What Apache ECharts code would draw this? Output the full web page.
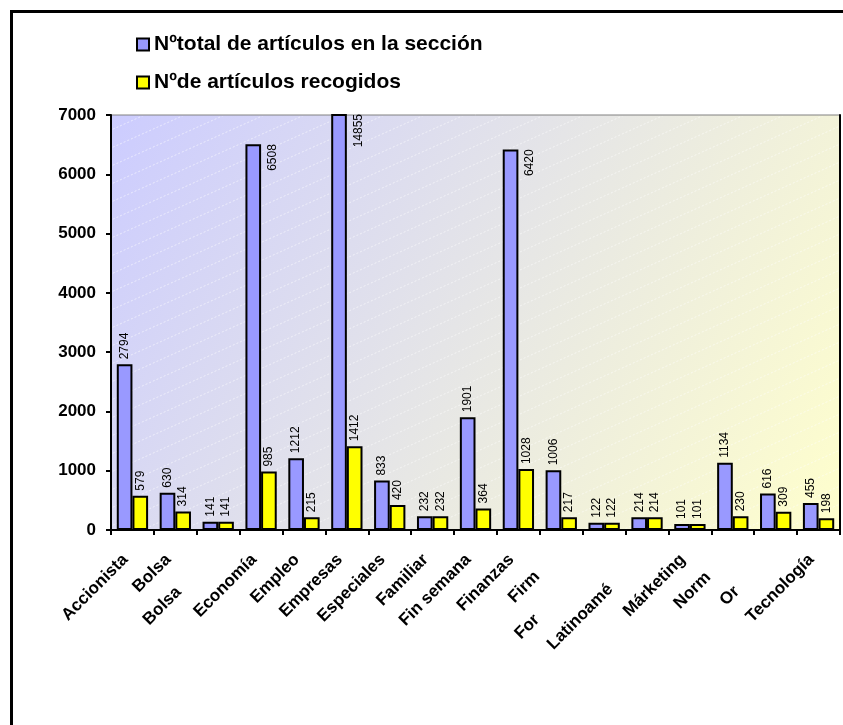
<!DOCTYPE html>
<html>
<head>
<meta charset="utf-8">
<script src="https://cdn.jsdelivr.net/npm/echarts@6/dist/echarts.min.js"></script>
<style>
  html, body { margin: 0; padding: 0; background: #fff; }
  #chart { width: 843px; height: 725px; }
</style>
</head>
<body>
<div id="chart"></div>
<script>
// Section names as printed under the axis (long ones are cut short)
const categories = ['Accionista', 'Bolsa', 'Bolsa', 'Economía', 'Empleo', 'Empresas', 'Especiales',
  'Familiar', 'Fin semana', 'Finanzas', 'Firm', 'For', 'Latinoamé', 'Márketing', 'Norm', 'Or', 'Tecnología'];
// Extra slide (px, along the slant) for labels that sit on a lower row
const labelDrop = [0, 0, 46, 0, 0, 0, 0, 0, 0, 0, 24, 85, 42, 0, 25, 45, 0];

const seriesNames = ['Nºtotal de artículos en la sección', 'Nºde artículos recogidos'];
const totalArticles = [2794, 630, 141, 6508, 1212, 14855, 833, 232, 1901, 6420, 1006, 122, 214, 101, 1134, 616, 455];
const collectedArticles = [579, 314, 141, 985, 215, 1412, 420, 232, 364, 1028, 217, 122, 214, 101, 230, 309, 198];

const yMin = 0;
const yMax = 7000;
const yStep = 1000;

const FONT = '"Liberation Sans", Arial, Helvetica, sans-serif';

// Plot area placement inside the 843x725 canvas
const GRID = { left: 111, right: 3, top: 115, bottom: 195 };
const WIDTH = 843;
const HEIGHT = 725;

// Faint dashed diagonal streaks laid over the plot background
function makeStreakPattern() {
  const w = 40, h = 18;
  const c = document.createElement('canvas');
  c.width = w;
  c.height = h;
  const ctx = c.getContext('2d');
  ctx.strokeStyle = 'rgba(255,255,255,0.55)';
  ctx.lineWidth = 1;
  ctx.setLineDash([2, 2]);
  for (const dy of [-h, 0, h]) {
    ctx.beginPath();
    ctx.moveTo(0, h + dy);
    ctx.lineTo(w, dy);
    ctx.stroke();
  }
  return c;
}

// Values near the top of the scale get their label beside the bar instead of above it
function barData(values) {
  return values.map(v => {
    if (v > yMax * 0.85) {
      return {
        value: v,
        label: { position: ['175%', 0], align: 'right', verticalAlign: 'middle' }
      };
    }
    return v;
  });
}

const valueLabel = {
  show: true,
  position: 'top',
  rotate: 90,
  align: 'left',
  verticalAlign: 'middle',
  distance: 5,
  fontSize: 12,
  fontFamily: FONT,
  color: '#000'
};

const chart = echarts.init(document.getElementById('chart'), null, { renderer: 'canvas' });

chart.setOption({
  backgroundColor: '#fff',
  animation: false,
  textStyle: { fontFamily: FONT },
  legend: {
    orient: 'vertical',
    left: 131,
    top: 29,
    itemWidth: 12,
    itemHeight: 12,
    itemGap: 17,
    icon: 'rect',
    itemStyle: { borderColor: '#000', borderWidth: 2 },
    textStyle: { fontSize: 21, fontWeight: 'bold', color: '#000', fontFamily: FONT },
    data: seriesNames
  },
  grid: {
    left: GRID.left,
    right: GRID.right,
    top: GRID.top,
    bottom: GRID.bottom,
    containLabel: false,
    outerBoundsMode: 'none',
    show: true,
    borderColor: '#808080',
    borderWidth: 1,
    backgroundColor: new echarts.graphic.LinearGradient(0, 0, 1, 1, [
      { offset: 0, color: '#ccccff' },
      { offset: 0.5, color: '#e6e6e6' },
      { offset: 1, color: '#ffffcc' }
    ])
  },
  xAxis: {
    type: 'category',
    data: categories.map((c, i) => ({
      value: c,
      textStyle: { padding: [0, 10 + labelDrop[i], 0, 0] }
    })),
    axisLine: { show: true, lineStyle: { color: '#000', width: 2 } },
    axisTick: { show: true, length: 5, lineStyle: { color: '#000', width: 2 } },
    axisLabel: {
      interval: 0,
      rotate: 45,
      margin: 20,
      fontSize: 17,
      fontWeight: 'bold',
      color: '#000',
      fontFamily: FONT
    },
    splitLine: { show: false }
  },
  yAxis: [
    {
      type: 'value',
      min: yMin,
      max: yMax,
      interval: yStep,
      axisLine: { show: true, lineStyle: { color: '#000', width: 2 } },
      axisTick: { show: true, length: 5, lineStyle: { color: '#000', width: 2 } },
      axisLabel: {
        margin: 15,
        fontSize: 17,
        fontWeight: 'bold',
        color: '#000',
        fontFamily: FONT,
        formatter: v => String(v)
      },
      splitLine: { show: false }
    },
    {
      type: 'value',
      position: 'right',
      min: yMin,
      max: yMax,
      interval: yStep,
      axisLine: { show: true, lineStyle: { color: '#000', width: 2 } },
      axisTick: { show: false },
      axisLabel: { show: false },
      splitLine: { show: false }
    }
  ],
  series: [
    {
      name: seriesNames[0],
      type: 'bar',
      data: barData(totalArticles),
      barGap: '0%',
      barCategoryGap: '27%',
      itemStyle: { color: '#9999ff', borderColor: '#000', borderWidth: 2 },
      label: valueLabel
    },
    {
      name: seriesNames[1],
      type: 'bar',
      data: barData(collectedArticles),
      barGap: '0%',
      barCategoryGap: '27%',
      itemStyle: { color: '#ffff00', borderColor: '#000', borderWidth: 2 },
      label: valueLabel
    }
  ],
  graphic: [
    {
      type: 'rect',
      silent: true,
      z: 1,
      shape: {
        x: GRID.left + 1,
        y: GRID.top + 1,
        width: WIDTH - GRID.left - GRID.right - 2,
        height: HEIGHT - GRID.top - GRID.bottom - 2
      },
      style: { fill: { image: makeStreakPattern(), repeat: 'repeat' }, stroke: null }
    },
    {
      type: 'rect',
      silent: true,
      shape: { x: 11.5, y: 11.5, width: 1000, height: 1000 },
      style: { fill: 'none', stroke: '#000', lineWidth: 3 }
    }
  ]
});
</script>
</body>
</html>
